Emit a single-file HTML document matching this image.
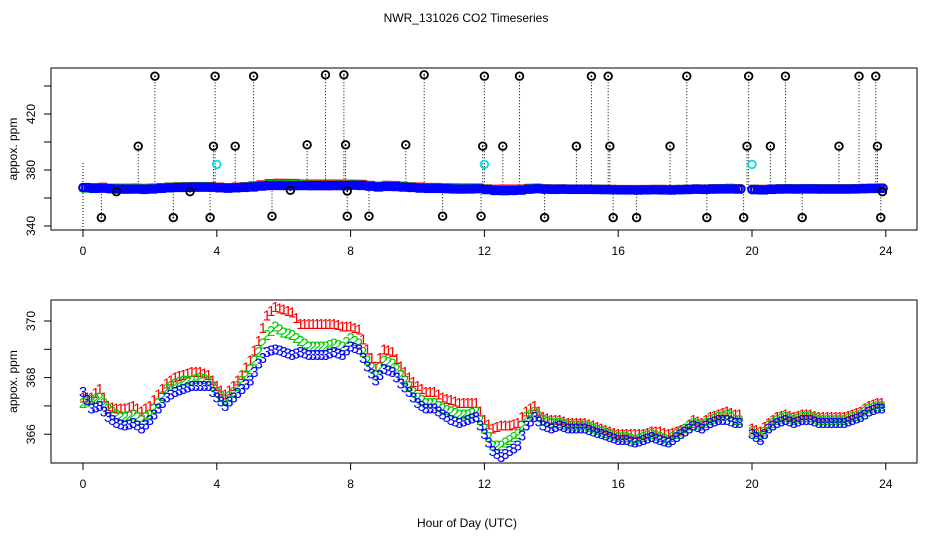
<!DOCTYPE html>
<html><head><meta charset="utf-8"><style>
html,body{margin:0;padding:0;background:#fff;}
svg{display:block;font-family:"Liberation Sans",sans-serif;}
</style></head><body>
<svg id="c" width="936" height="540" viewBox="0 0 936 540" xmlns="http://www.w3.org/2000/svg">
<text x="466" y="22" font-size="12" text-anchor="middle">NWR_131026  CO2 Timeseries</text>
<text x="467" y="527" font-size="12" text-anchor="middle">Hour of Day (UTC)</text>
<g id="topPanel"></g>
<g id="botPanel"></g>
</svg>
<script>
const hours = [0,0.25,0.5,0.75,1,1.25,1.5,1.75,2,2.25,2.5,2.75,3,3.25,3.5,3.75,4,4.25,4.5,4.75,5,5.25,5.5,5.75,6,6.25,6.5,6.75,7,7.25,7.5,7.75,8,8.25,8.5,8.75,9,9.25,9.5,9.75,10,10.25,10.5,10.75,11,11.25,11.5,11.75,12,12.25,12.5,12.75,13,13.25,13.5,13.75,14,14.25,14.5,14.75,15,15.25,15.5,15.75,16,16.25,16.5,16.75,17,17.25,17.5,17.75,18,18.25,18.5,18.75,19,19.25,19.5,20,20.25,20.5,20.75,21,21.25,21.5,21.75,22,22.25,22.5,22.75,23,23.25,23.5,23.75];
const series3 = [367.5,366.9,367.0,366.6,366.4,366.3,366.4,366.2,366.5,366.9,367.3,367.5,367.6,367.7,367.7,367.7,367.3,367.0,367.3,367.6,367.9,368.5,368.9,369.0,368.9,368.8,368.9,368.8,368.8,368.8,368.9,368.8,369.1,369.0,368.4,367.9,368.3,368.2,367.8,367.5,367.1,366.9,366.9,366.7,366.5,366.4,366.5,366.6,366.0,365.4,365.2,365.4,365.6,366.3,366.6,366.3,366.2,366.3,366.2,366.2,366.2,366.1,366.0,365.9,365.8,365.8,365.7,365.8,365.9,365.8,365.7,365.9,366.1,366.3,366.2,366.4,366.5,366.5,366.4,366.0,365.8,366.2,366.4,366.5,366.4,366.5,366.5,366.4,366.4,366.4,366.4,366.5,366.6,366.8,366.9];
const series2 = [367.1,367.2,367.3,366.9,366.7,366.6,366.7,366.5,366.7,367.1,367.6,367.8,367.9,367.9,368.0,367.9,367.5,367.2,367.5,367.9,368.3,368.9,369.5,369.8,369.6,369.5,369.3,369.1,369.1,369.1,369.2,369.1,369.4,369.2,368.6,368.1,368.6,368.5,368.1,367.7,367.3,367.1,367.1,366.9,366.8,366.7,366.7,366.8,366.2,365.6,365.6,365.8,366.0,366.6,366.8,366.5,366.4,366.4,366.3,366.3,366.3,366.2,366.1,366.0,365.9,365.9,365.8,365.9,366.0,365.9,365.8,366.0,366.2,366.4,366.3,366.5,366.6,366.7,366.5,366.1,365.9,366.3,366.5,366.6,366.5,366.6,366.6,366.5,366.5,366.5,366.5,366.6,366.7,366.9,367.0];
const series1 = [367.3,367.3,367.6,367.0,366.9,366.9,367.0,366.8,367.0,367.4,367.8,368.0,368.1,368.2,368.2,368.1,367.7,367.4,367.7,368.1,368.6,369.3,370.2,370.5,370.4,370.3,369.9,369.9,369.9,369.9,369.9,369.8,369.8,369.7,369.0,368.4,369.0,368.9,368.4,368.0,367.7,367.5,367.5,367.3,367.2,367.1,367.1,367.1,366.5,366.2,366.3,366.3,366.4,366.8,367.0,366.6,366.5,366.5,366.4,366.4,366.4,366.3,366.2,366.1,366.0,366.0,366.0,366.0,366.1,366.1,366.0,366.1,366.2,366.5,366.4,366.6,366.7,366.8,366.7,366.2,366.1,366.4,366.6,366.7,366.6,366.7,366.7,366.6,366.6,366.6,366.6,366.7,366.8,367.0,367.1];
const outHours = [0.55,1.65,2.15,2.7,3.8,3.9,3.95,4.55,5.1,5.65,6.7,7.25,7.8,7.85,7.9,8.55,9.65,10.2,10.75,11.9,11.95,12.0,12.55,13.05,13.8,14.75,15.2,15.7,15.75,15.85,16.55,17.55,18.05,18.65,19.75,19.85,19.9,20.55,21.0,21.5,22.6,23.2,23.7,23.75,23.85,1.0,3.2,6.2,7.9,23.9];
const outValues = [346,397,447,346,346,397,447,397,447,347,398,448,448,398,347,347,398,448,347,347,397,447,397,447,346,397,447,447,397,346,346,397,447,346,346,397,447,397,447,346,397,447,447,397,346,364.5,364.5,365.5,365,364.5];
const cyanHours = [4.0,12.0,20.0];
const cyanValues = [384,384,384];
const xTicks = [0,4,8,12,16,20,24];
const topYTicks = [340,360,380,400,420,440];
const topYLabels = [340,380,420];
const botYTicks = [366,367,368,369,370];
const botYLabels = [366,368,370];

const NS='http://www.w3.org/2000/svg';
function mk(parent,tag,attrs){const e=document.createElementNS(NS,tag);for(const k in attrs)e.setAttribute(k,attrs[k]);parent.appendChild(e);return e;}
const L=51,R=917;
const xs=h=>83+h*33.45;
const yTop=v=>170-(v-380)*1.4;
const yBot=v=>321-(v-370)*28.3;

function axes(g,T,B,yf,yt,yl,prefix){
  let e=mk(g,'rect',{x:L,y:T,width:R-L,height:B-T,fill:'none',stroke:'#000','stroke-width':1});
  
  
  xTicks.forEach(t=>{
    const x=xs(t);
    e=mk(g,'line',{x1:x,x2:x,y1:B,y2:B+7,stroke:'#000'});
    
    
    e=mk(g,'text',{x:x,y:B+25,'font-size':12,'text-anchor':'middle'});e.textContent=t;
    
    
  });
  yt.forEach(t=>{
    const y=yf(t);
    e=mk(g,'line',{x1:L-7,x2:L,y1:y,y2:y,stroke:'#000'});
    
    
  });
  yl.forEach(t=>{
    const y=yf(t);
    e=mk(g,'text',{x:0,y:0,'font-size':12,'text-anchor':'middle',transform:`translate(35,${y}) rotate(-90)`});e.textContent=t;
    
    
  });
  e=mk(g,'text',{x:0,y:0,'font-size':12,'text-anchor':'middle',transform:`translate(17,${(T+B)/2}) rotate(-90)`});e.textContent='appox. ppm';
  
  
}

const topG=document.getElementById('topPanel');
axes(topG,68,230,yTop,topYTicks,topYLabels,'top');
outHours.forEach((h,i)=>{
  const x=xs(h);
  const e=mk(topG,'line',{x1:x,x2:x,y1:yTop(367),y2:yTop(outValues[i]),stroke:'#000','stroke-dasharray':'1,2','stroke-width':1});
  
  
});
mk(topG,'line',{x1:xs(0),x2:xs(0),y1:yTop(385),y2:230,stroke:'#000','stroke-dasharray':'1,2'});
[[series1,'#f00'],[series2,'#0c0'],[series3,'#00f']].forEach(([s,c],k)=>{
  hours.forEach((h,i)=>{
    for(const d of [0,0.083,0.166]){
      const e=mk(topG,'circle',{cx:xs(h+d),cy:yTop(s[i]),r:3.8,fill:'none',stroke:c,'stroke-width':2});
      
      
    }
  });
});
outHours.forEach((h,i)=>{
  const x=xs(h),y=yTop(outValues[i]);
  let e=mk(topG,'circle',{cx:x,cy:y,r:3.8,fill:'none',stroke:'#000','stroke-width':1.8});
  
  
  mk(topG,'circle',{cx:x,cy:y,r:0.9,fill:'#000'});
});
cyanHours.forEach((h,i)=>{
  const e=mk(topG,'circle',{cx:xs(h),cy:yTop(cyanValues[i]),r:3.8,fill:'none',stroke:'#0dd','stroke-width':1.8});
  
  
});

const botG=document.getElementById('botPanel');
axes(botG,300,463,yBot,botYTicks,botYLabels,'bottom');
[[series1,'#f00','1'],[series2,'#0c0','2'],[series3,'#00f','3']].forEach(([s,c,ch],k)=>{
  hours.forEach((h,i)=>{
    for(const d of [0,0.125]){
      const v = (d>0 && i<s.length-1 && hours[i+1]-h<0.3) ? (s[i]+s[i+1])/2 : s[i];
      const e=mk(botG,'text',{x:xs(h+d),y:yBot(v)+5,'font-size':15,'text-anchor':'middle',fill:c});
      e.textContent=ch;
      
      
    }
  });
});
</script>
</body></html>
